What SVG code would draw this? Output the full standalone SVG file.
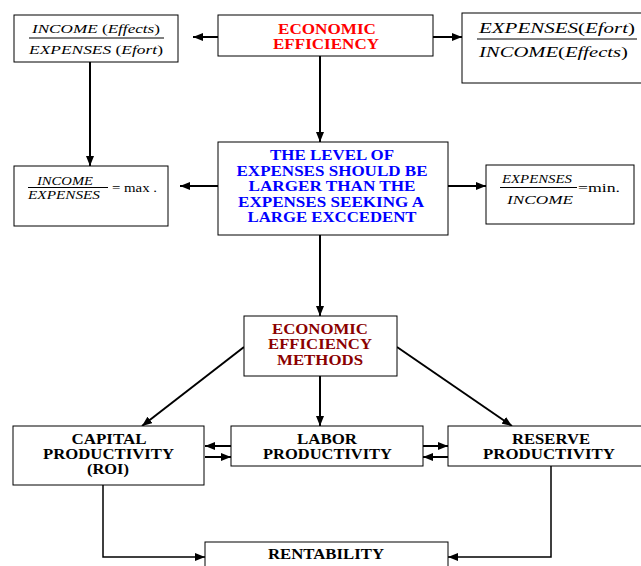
<svg xmlns="http://www.w3.org/2000/svg" width="641" height="566" viewBox="0 0 641 566">
<style>
.box{fill:#fff;stroke:#000;stroke-width:1}
.b{font-family:"Liberation Serif","Times New Roman",serif;font-weight:bold;font-size:14px;text-anchor:middle}
.i{font-family:"Liberation Serif","Times New Roman",serif;font-style:italic}
.n{font-style:normal}
.red{fill:#ff0000}.blue{fill:#0000ff}.dred{fill:#8b0000}.blk{fill:#000}
.c{fill:none;stroke:#000;stroke-width:2}
.c2{fill:none;stroke:#000;stroke-width:1.5}
.fl{stroke:#000;stroke-width:1}
</style>
<defs>
<marker id="ah" markerUnits="userSpaceOnUse" markerWidth="10" markerHeight="8" refX="10" refY="4" orient="auto">
<path d="M0,0 L10,4 L0,8 z" fill="#000"/>
</marker>
</defs>
<rect width="641" height="566" fill="#fff"/>

<g id="connectors">
<line class="c" x1="218" y1="37" x2="193" y2="37" marker-end="url(#ah)"/>
<line class="c" x1="433" y1="37" x2="462" y2="37" marker-end="url(#ah)"/>
<line class="c" x1="90" y1="62" x2="90" y2="166" marker-end="url(#ah)"/>
<line class="c" x1="320" y1="56" x2="320" y2="142" marker-end="url(#ah)"/>
<line class="c" x1="218" y1="186" x2="180" y2="186" marker-end="url(#ah)"/>
<line class="c" x1="448" y1="186" x2="486" y2="186" marker-end="url(#ah)"/>
<line class="c" x1="320" y1="235" x2="320" y2="316" marker-end="url(#ah)"/>
<line class="c" x1="244" y1="347" x2="142" y2="426" marker-end="url(#ah)"/>
<line class="c" x1="397" y1="347" x2="512" y2="426" marker-end="url(#ah)"/>
<line class="c" x1="320" y1="376" x2="320" y2="426" marker-end="url(#ah)"/>
<line class="c" x1="231" y1="446" x2="205" y2="446" marker-end="url(#ah)"/>
<line class="c" x1="205" y1="457" x2="231" y2="457" marker-end="url(#ah)"/>
<line class="c" x1="423" y1="446" x2="448" y2="446" marker-end="url(#ah)"/>
<line class="c" x1="448" y1="457" x2="423" y2="457" marker-end="url(#ah)"/>
<polyline class="c2" points="103,485 103,557 205,557" marker-end="url(#ah)"/>
<polyline class="c2" points="551,466 551,557 448,557" marker-end="url(#ah)"/>
</g>

<g id="n_income_expenses">
<rect class="box" x="14" y="15" width="164" height="47"/>
<text class="i" x="96" y="33" font-size="13" text-anchor="middle" textLength="128" lengthAdjust="spacingAndGlyphs">INCOME <tspan class="n">(</tspan>Effects<tspan class="n">)</tspan></text>
<line class="fl" x1="29" y1="38" x2="164" y2="38"/>
<text class="i" x="96" y="54" font-size="13" text-anchor="middle" textLength="134" lengthAdjust="spacingAndGlyphs">EXPENSES <tspan class="n">(</tspan>Efort<tspan class="n">)</tspan></text>
</g>

<g id="n_econ_eff">
<rect class="box" x="218" y="15" width="215" height="41"/>
<text class="b red" x="327" y="34" textLength="98" lengthAdjust="spacingAndGlyphs">ECONOMIC</text>
<text class="b red" x="326" y="49" textLength="106" lengthAdjust="spacingAndGlyphs">EFFICIENCY</text>
</g>

<g id="n_expenses_income">
<rect class="box" x="462" y="13" width="200" height="70"/>
<text class="i" x="479" y="33" font-size="15" textLength="156" lengthAdjust="spacingAndGlyphs">EXPENSES<tspan class="n">(</tspan>Efort<tspan class="n">)</tspan></text>
<line class="fl" x1="477" y1="39" x2="637" y2="39"/>
<text class="i" x="479" y="57" font-size="15" textLength="149" lengthAdjust="spacingAndGlyphs">INCOME<tspan class="n">(</tspan>Effects<tspan class="n">)</tspan></text>
</g>

<g id="n_max">
<rect class="box" x="14" y="166" width="154" height="60"/>
<text class="i" x="65" y="184.5" font-size="12" text-anchor="middle" textLength="56" lengthAdjust="spacingAndGlyphs">INCOME</text>
<line class="fl" x1="28" y1="187.5" x2="108" y2="187.5"/>
<text class="i" x="64" y="199" font-size="12" text-anchor="middle" textLength="72" lengthAdjust="spacingAndGlyphs">EXPENSES</text>
<text x="112" y="191.5" font-family="Liberation Serif, serif" font-size="12" textLength="45" lengthAdjust="spacingAndGlyphs">= max .</text>
</g>

<g id="n_level">
<rect class="box" x="218" y="142" width="230" height="93"/>
<text class="b blue" x="332" y="160" textLength="124" lengthAdjust="spacingAndGlyphs">THE LEVEL OF</text>
<text class="b blue" x="332" y="176" textLength="191" lengthAdjust="spacingAndGlyphs">EXPENSES SHOULD BE</text>
<text class="b blue" x="332" y="191" textLength="167" lengthAdjust="spacingAndGlyphs">LARGER THAN THE</text>
<text class="b blue" x="331" y="207" textLength="186" lengthAdjust="spacingAndGlyphs">EXPENSES SEEKING A</text>
<text class="b blue" x="332" y="222" textLength="169" lengthAdjust="spacingAndGlyphs">LARGE EXCCEDENT</text>
</g>

<g id="n_min">
<rect class="box" x="486" y="165" width="148" height="59"/>
<text class="i" x="537" y="182.5" font-size="12" text-anchor="middle" textLength="70" lengthAdjust="spacingAndGlyphs">EXPENSES</text>
<line class="fl" x1="500" y1="187.5" x2="577" y2="187.5"/>
<text class="i" x="540" y="204" font-size="12" text-anchor="middle" textLength="66" lengthAdjust="spacingAndGlyphs">INCOME</text>
<text x="578" y="192" font-family="Liberation Serif, serif" font-size="13" textLength="42" lengthAdjust="spacingAndGlyphs">=min.</text>
</g>

<g id="n_methods">
<rect class="box" x="244" y="316" width="153" height="60"/>
<text class="b dred" x="320" y="334" textLength="96" lengthAdjust="spacingAndGlyphs">ECONOMIC</text>
<text class="b dred" x="320" y="349" textLength="104" lengthAdjust="spacingAndGlyphs">EFFICIENCY</text>
<text class="b dred" x="320" y="365" textLength="86" lengthAdjust="spacingAndGlyphs">METHODS</text>
</g>

<g id="n_capital">
<rect class="box" x="13" y="426" width="191" height="59"/>
<text class="b blk" x="109" y="444" textLength="75" lengthAdjust="spacingAndGlyphs">CAPITAL</text>
<text class="b blk" x="108.5" y="459" textLength="131" lengthAdjust="spacingAndGlyphs">PRODUCTIVITY</text>
<text class="b blk" x="108" y="474" textLength="42" lengthAdjust="spacingAndGlyphs">(ROI)</text>
</g>

<g id="n_labor">
<rect class="box" x="231" y="426" width="192" height="40"/>
<text class="b blk" x="327" y="444" textLength="60" lengthAdjust="spacingAndGlyphs">LABOR</text>
<text class="b blk" x="327.5" y="459" textLength="129" lengthAdjust="spacingAndGlyphs">PRODUCTIVITY</text>
</g>

<g id="n_reserve">
<rect class="box" x="448" y="426" width="200" height="40"/>
<text class="b blk" x="551" y="444" textLength="78" lengthAdjust="spacingAndGlyphs">RESERVE</text>
<text class="b blk" x="549" y="459" textLength="132" lengthAdjust="spacingAndGlyphs">PRODUCTIVITY</text>
</g>

<g id="n_rentability">
<rect class="box" x="205" y="542" width="243" height="40"/>
<text class="b blk" x="326" y="558.5" textLength="116" lengthAdjust="spacingAndGlyphs">RENTABILITY</text>
</g>
</svg>
